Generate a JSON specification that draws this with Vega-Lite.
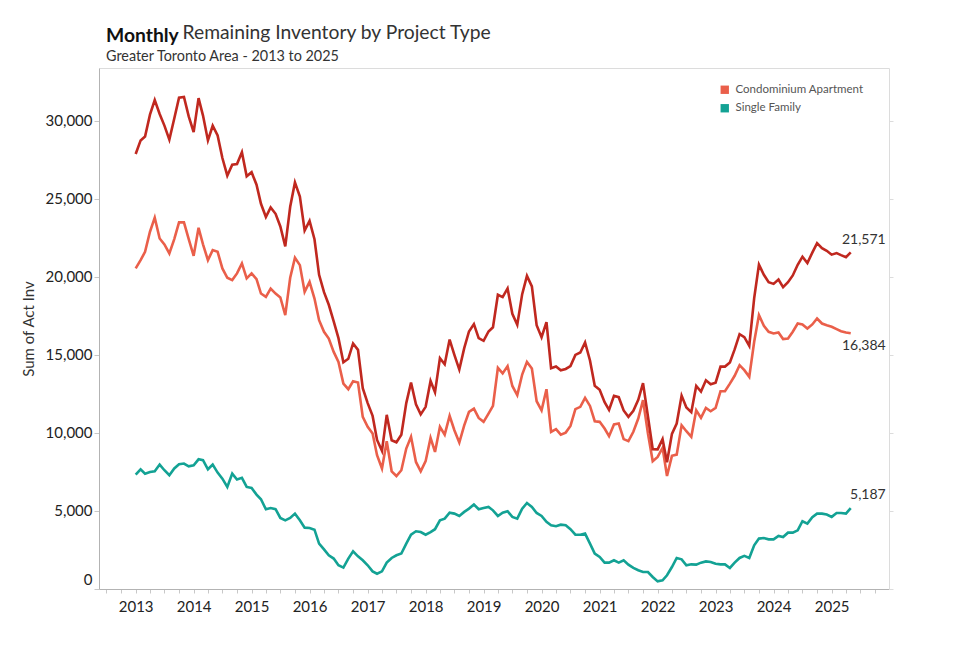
{
"$schema": "https://vega.github.io/schema/vega-lite/v6.json",
"width": 790, "height": 521,
"autosize": {"type": "none"},
"padding": {"left": 99, "top": 68, "right": 91, "bottom": 74},
"background": "white",
"config": {"font": "Lato", "view": {"stroke": null}},
"title": {"text": "Monthly", "subtitle": "Greater Toronto Area - 2013 to 2025", "anchor": "start", "frame": "group", "fontSize": 19.3, "fontWeight": "bold", "color": "#111", "font": "Lato", "subtitleFont": "Lato", "subtitleFontSize": 14.4, "subtitleColor": "#333", "subtitlePadding": 3, "dx": 7, "dy": 46, "offset": 6},
"datasets": {"inv": [
{"date":"2013-01-01T00:00","type":"Condominium Apartment","value":20540},{"date":"2013-01-01T00:00","type":"Single Family","value":7330},
{"date":"2013-02-01T00:00","type":"Condominium Apartment","value":21070},{"date":"2013-02-01T00:00","type":"Single Family","value":7670},
{"date":"2013-03-01T00:00","type":"Condominium Apartment","value":21600},{"date":"2013-03-01T00:00","type":"Single Family","value":7390},
{"date":"2013-04-01T00:00","type":"Condominium Apartment","value":22890},{"date":"2013-04-01T00:00","type":"Single Family","value":7500},
{"date":"2013-05-01T00:00","type":"Condominium Apartment","value":23790},{"date":"2013-05-01T00:00","type":"Single Family","value":7540},
{"date":"2013-06-01T00:00","type":"Condominium Apartment","value":22460},{"date":"2013-06-01T00:00","type":"Single Family","value":7970},
{"date":"2013-07-01T00:00","type":"Condominium Apartment","value":22080},{"date":"2013-07-01T00:00","type":"Single Family","value":7610},
{"date":"2013-08-01T00:00","type":"Condominium Apartment","value":21500},{"date":"2013-08-01T00:00","type":"Single Family","value":7290},
{"date":"2013-09-01T00:00","type":"Condominium Apartment","value":22420},{"date":"2013-09-01T00:00","type":"Single Family","value":7720},
{"date":"2013-10-01T00:00","type":"Condominium Apartment","value":23490},{"date":"2013-10-01T00:00","type":"Single Family","value":7990},
{"date":"2013-11-01T00:00","type":"Condominium Apartment","value":23490},{"date":"2013-11-01T00:00","type":"Single Family","value":8040},
{"date":"2013-12-01T00:00","type":"Condominium Apartment","value":22420},{"date":"2013-12-01T00:00","type":"Single Family","value":7860},
{"date":"2014-01-01T00:00","type":"Condominium Apartment","value":21350},{"date":"2014-01-01T00:00","type":"Single Family","value":7930},
{"date":"2014-02-01T00:00","type":"Condominium Apartment","value":23140},{"date":"2014-02-01T00:00","type":"Single Family","value":8310},
{"date":"2014-03-01T00:00","type":"Condominium Apartment","value":22080},{"date":"2014-03-01T00:00","type":"Single Family","value":8250},
{"date":"2014-04-01T00:00","type":"Condominium Apartment","value":21070},{"date":"2014-04-01T00:00","type":"Single Family","value":7670},
{"date":"2014-05-01T00:00","type":"Condominium Apartment","value":21710},{"date":"2014-05-01T00:00","type":"Single Family","value":7970},
{"date":"2014-06-01T00:00","type":"Condominium Apartment","value":21600},{"date":"2014-06-01T00:00","type":"Single Family","value":7460},
{"date":"2014-07-01T00:00","type":"Condominium Apartment","value":20540},{"date":"2014-07-01T00:00","type":"Single Family","value":7070},
{"date":"2014-08-01T00:00","type":"Condominium Apartment","value":19940},{"date":"2014-08-01T00:00","type":"Single Family","value":6540},
{"date":"2014-09-01T00:00","type":"Condominium Apartment","value":19790},{"date":"2014-09-01T00:00","type":"Single Family","value":7390},
{"date":"2014-10-01T00:00","type":"Condominium Apartment","value":20220},{"date":"2014-10-01T00:00","type":"Single Family","value":7010},
{"date":"2014-11-01T00:00","type":"Condominium Apartment","value":20860},{"date":"2014-11-01T00:00","type":"Single Family","value":7120},
{"date":"2014-12-01T00:00","type":"Condominium Apartment","value":19900},{"date":"2014-12-01T00:00","type":"Single Family","value":6540},
{"date":"2015-01-01T00:00","type":"Condominium Apartment","value":20220},{"date":"2015-01-01T00:00","type":"Single Family","value":6480},
{"date":"2015-02-01T00:00","type":"Condominium Apartment","value":19850},{"date":"2015-02-01T00:00","type":"Single Family","value":6050},
{"date":"2015-03-01T00:00","type":"Condominium Apartment","value":18930},{"date":"2015-03-01T00:00","type":"Single Family","value":5750},
{"date":"2015-04-01T00:00","type":"Condominium Apartment","value":18720},{"date":"2015-04-01T00:00","type":"Single Family","value":5110},
{"date":"2015-05-01T00:00","type":"Condominium Apartment","value":19250},{"date":"2015-05-01T00:00","type":"Single Family","value":5190},
{"date":"2015-06-01T00:00","type":"Condominium Apartment","value":18930},{"date":"2015-06-01T00:00","type":"Single Family","value":5110},
{"date":"2015-07-01T00:00","type":"Condominium Apartment","value":18680},{"date":"2015-07-01T00:00","type":"Single Family","value":4550},
{"date":"2015-08-01T00:00","type":"Condominium Apartment","value":17550},{"date":"2015-08-01T00:00","type":"Single Family","value":4400},
{"date":"2015-09-01T00:00","type":"Condominium Apartment","value":19940},{"date":"2015-09-01T00:00","type":"Single Family","value":4550},
{"date":"2015-10-01T00:00","type":"Condominium Apartment","value":21220},{"date":"2015-10-01T00:00","type":"Single Family","value":4830},
{"date":"2015-11-01T00:00","type":"Condominium Apartment","value":20750},{"date":"2015-11-01T00:00","type":"Single Family","value":4400},
{"date":"2015-12-01T00:00","type":"Condominium Apartment","value":19040},{"date":"2015-12-01T00:00","type":"Single Family","value":3930},
{"date":"2016-01-01T00:00","type":"Condominium Apartment","value":19680},{"date":"2016-01-01T00:00","type":"Single Family","value":3910},
{"date":"2016-02-01T00:00","type":"Condominium Apartment","value":18610},{"date":"2016-02-01T00:00","type":"Single Family","value":3800},
{"date":"2016-03-01T00:00","type":"Condominium Apartment","value":17220},{"date":"2016-03-01T00:00","type":"Single Family","value":2910},
{"date":"2016-04-01T00:00","type":"Condominium Apartment","value":16480},{"date":"2016-04-01T00:00","type":"Single Family","value":2540},
{"date":"2016-05-01T00:00","type":"Condominium Apartment","value":16050},{"date":"2016-05-01T00:00","type":"Single Family","value":2160},
{"date":"2016-06-01T00:00","type":"Condominium Apartment","value":15190},{"date":"2016-06-01T00:00","type":"Single Family","value":1950},
{"date":"2016-07-01T00:00","type":"Condominium Apartment","value":14550},{"date":"2016-07-01T00:00","type":"Single Family","value":1520},
{"date":"2016-08-01T00:00","type":"Condominium Apartment","value":13160},{"date":"2016-08-01T00:00","type":"Single Family","value":1370},
{"date":"2016-09-01T00:00","type":"Condominium Apartment","value":12800},{"date":"2016-09-01T00:00","type":"Single Family","value":1950},
{"date":"2016-10-01T00:00","type":"Condominium Apartment","value":13310},{"date":"2016-10-01T00:00","type":"Single Family","value":2420},
{"date":"2016-11-01T00:00","type":"Condominium Apartment","value":13230},{"date":"2016-11-01T00:00","type":"Single Family","value":2090},
{"date":"2016-12-01T00:00","type":"Condominium Apartment","value":11030},{"date":"2016-12-01T00:00","type":"Single Family","value":1840},
{"date":"2017-01-01T00:00","type":"Condominium Apartment","value":10390},{"date":"2017-01-01T00:00","type":"Single Family","value":1520},
{"date":"2017-02-01T00:00","type":"Condominium Apartment","value":9960},{"date":"2017-02-01T00:00","type":"Single Family","value":1130},
{"date":"2017-03-01T00:00","type":"Condominium Apartment","value":8570},{"date":"2017-03-01T00:00","type":"Single Family","value":980},
{"date":"2017-04-01T00:00","type":"Condominium Apartment","value":7720},{"date":"2017-04-01T00:00","type":"Single Family","value":1130},
{"date":"2017-05-01T00:00","type":"Condominium Apartment","value":9470},{"date":"2017-05-01T00:00","type":"Single Family","value":1690},
{"date":"2017-06-01T00:00","type":"Condominium Apartment","value":7540},{"date":"2017-06-01T00:00","type":"Single Family","value":1990},
{"date":"2017-07-01T00:00","type":"Condominium Apartment","value":7240},{"date":"2017-07-01T00:00","type":"Single Family","value":2160},
{"date":"2017-08-01T00:00","type":"Condominium Apartment","value":7610},{"date":"2017-08-01T00:00","type":"Single Family","value":2270},
{"date":"2017-09-01T00:00","type":"Condominium Apartment","value":9000},{"date":"2017-09-01T00:00","type":"Single Family","value":2910},
{"date":"2017-10-01T00:00","type":"Condominium Apartment","value":9750},{"date":"2017-10-01T00:00","type":"Single Family","value":3480},
{"date":"2017-11-01T00:00","type":"Condominium Apartment","value":8140},{"date":"2017-11-01T00:00","type":"Single Family","value":3700},
{"date":"2017-12-01T00:00","type":"Condominium Apartment","value":7540},{"date":"2017-12-01T00:00","type":"Single Family","value":3650},
{"date":"2018-01-01T00:00","type":"Condominium Apartment","value":8190},{"date":"2018-01-01T00:00","type":"Single Family","value":3480},
{"date":"2018-02-01T00:00","type":"Condominium Apartment","value":9680},{"date":"2018-02-01T00:00","type":"Single Family","value":3650},
{"date":"2018-03-01T00:00","type":"Condominium Apartment","value":8780},{"date":"2018-03-01T00:00","type":"Single Family","value":3830},
{"date":"2018-04-01T00:00","type":"Condominium Apartment","value":10390},{"date":"2018-04-01T00:00","type":"Single Family","value":4400},
{"date":"2018-05-01T00:00","type":"Condominium Apartment","value":9890},{"date":"2018-05-01T00:00","type":"Single Family","value":4510},
{"date":"2018-06-01T00:00","type":"Condominium Apartment","value":11090},{"date":"2018-06-01T00:00","type":"Single Family","value":4890},
{"date":"2018-07-01T00:00","type":"Condominium Apartment","value":10170},{"date":"2018-07-01T00:00","type":"Single Family","value":4830},
{"date":"2018-08-01T00:00","type":"Condominium Apartment","value":9380},{"date":"2018-08-01T00:00","type":"Single Family","value":4680},
{"date":"2018-09-01T00:00","type":"Condominium Apartment","value":10490},{"date":"2018-09-01T00:00","type":"Single Family","value":4940},
{"date":"2018-10-01T00:00","type":"Condominium Apartment","value":11350},{"date":"2018-10-01T00:00","type":"Single Family","value":5150},
{"date":"2018-11-01T00:00","type":"Condominium Apartment","value":11560},{"date":"2018-11-01T00:00","type":"Single Family","value":5410},
{"date":"2018-12-01T00:00","type":"Condominium Apartment","value":10960},{"date":"2018-12-01T00:00","type":"Single Family","value":5110},
{"date":"2019-01-01T00:00","type":"Condominium Apartment","value":10710},{"date":"2019-01-01T00:00","type":"Single Family","value":5190},
{"date":"2019-02-01T00:00","type":"Condominium Apartment","value":11240},{"date":"2019-02-01T00:00","type":"Single Family","value":5260},
{"date":"2019-03-01T00:00","type":"Condominium Apartment","value":11730},{"date":"2019-03-01T00:00","type":"Single Family","value":5040},
{"date":"2019-04-01T00:00","type":"Condominium Apartment","value":14170},{"date":"2019-04-01T00:00","type":"Single Family","value":4680},
{"date":"2019-05-01T00:00","type":"Condominium Apartment","value":13810},{"date":"2019-05-01T00:00","type":"Single Family","value":4890},
{"date":"2019-06-01T00:00","type":"Condominium Apartment","value":14280},{"date":"2019-06-01T00:00","type":"Single Family","value":4980},
{"date":"2019-07-01T00:00","type":"Condominium Apartment","value":13010},{"date":"2019-07-01T00:00","type":"Single Family","value":4620},
{"date":"2019-08-01T00:00","type":"Condominium Apartment","value":12420},{"date":"2019-08-01T00:00","type":"Single Family","value":4510},
{"date":"2019-09-01T00:00","type":"Condominium Apartment","value":13740},{"date":"2019-09-01T00:00","type":"Single Family","value":5150},
{"date":"2019-10-01T00:00","type":"Condominium Apartment","value":14550},{"date":"2019-10-01T00:00","type":"Single Family","value":5510},
{"date":"2019-11-01T00:00","type":"Condominium Apartment","value":14130},{"date":"2019-11-01T00:00","type":"Single Family","value":5260},
{"date":"2019-12-01T00:00","type":"Condominium Apartment","value":12030},{"date":"2019-12-01T00:00","type":"Single Family","value":4870},
{"date":"2020-01-01T00:00","type":"Condominium Apartment","value":11450},{"date":"2020-01-01T00:00","type":"Single Family","value":4680},
{"date":"2020-02-01T00:00","type":"Condominium Apartment","value":12800},{"date":"2020-02-01T00:00","type":"Single Family","value":4300},
{"date":"2020-03-01T00:00","type":"Condominium Apartment","value":10070},{"date":"2020-03-01T00:00","type":"Single Family","value":4080},
{"date":"2020-04-01T00:00","type":"Condominium Apartment","value":10240},{"date":"2020-04-01T00:00","type":"Single Family","value":4020},
{"date":"2020-05-01T00:00","type":"Condominium Apartment","value":9890},{"date":"2020-05-01T00:00","type":"Single Family","value":4120},
{"date":"2020-06-01T00:00","type":"Condominium Apartment","value":10020},{"date":"2020-06-01T00:00","type":"Single Family","value":4080},
{"date":"2020-07-01T00:00","type":"Condominium Apartment","value":10450},{"date":"2020-07-01T00:00","type":"Single Family","value":3830},
{"date":"2020-08-01T00:00","type":"Condominium Apartment","value":11520},{"date":"2020-08-01T00:00","type":"Single Family","value":3480},
{"date":"2020-09-01T00:00","type":"Condominium Apartment","value":11670},{"date":"2020-09-01T00:00","type":"Single Family","value":3480},
{"date":"2020-10-01T00:00","type":"Condominium Apartment","value":12250},{"date":"2020-10-01T00:00","type":"Single Family","value":3550},
{"date":"2020-11-01T00:00","type":"Condominium Apartment","value":11730},{"date":"2020-11-01T00:00","type":"Single Family","value":2910},
{"date":"2020-12-01T00:00","type":"Condominium Apartment","value":10750},{"date":"2020-12-01T00:00","type":"Single Family","value":2270},
{"date":"2021-01-01T00:00","type":"Condominium Apartment","value":10710},{"date":"2021-01-01T00:00","type":"Single Family","value":2050},
{"date":"2021-02-01T00:00","type":"Condominium Apartment","value":10280},{"date":"2021-02-01T00:00","type":"Single Family","value":1690},
{"date":"2021-03-01T00:00","type":"Condominium Apartment","value":9790},{"date":"2021-03-01T00:00","type":"Single Family","value":1690},
{"date":"2021-04-01T00:00","type":"Condominium Apartment","value":10540},{"date":"2021-04-01T00:00","type":"Single Family","value":1840},
{"date":"2021-05-01T00:00","type":"Condominium Apartment","value":10600},{"date":"2021-05-01T00:00","type":"Single Family","value":1690},
{"date":"2021-06-01T00:00","type":"Condominium Apartment","value":9600},{"date":"2021-06-01T00:00","type":"Single Family","value":1840},
{"date":"2021-07-01T00:00","type":"Condominium Apartment","value":9470},{"date":"2021-07-01T00:00","type":"Single Family","value":1560},
{"date":"2021-08-01T00:00","type":"Condominium Apartment","value":10070},{"date":"2021-08-01T00:00","type":"Single Family","value":1350},
{"date":"2021-09-01T00:00","type":"Condominium Apartment","value":10920},{"date":"2021-09-01T00:00","type":"Single Family","value":1200},
{"date":"2021-10-01T00:00","type":"Condominium Apartment","value":12100},{"date":"2021-10-01T00:00","type":"Single Family","value":1090},
{"date":"2021-11-01T00:00","type":"Condominium Apartment","value":9960},{"date":"2021-11-01T00:00","type":"Single Family","value":1090},
{"date":"2021-12-01T00:00","type":"Condominium Apartment","value":8190},{"date":"2021-12-01T00:00","type":"Single Family","value":770},
{"date":"2022-01-01T00:00","type":"Condominium Apartment","value":8460},{"date":"2022-01-01T00:00","type":"Single Family","value":490},
{"date":"2022-02-01T00:00","type":"Condominium Apartment","value":9040},{"date":"2022-02-01T00:00","type":"Single Family","value":560},
{"date":"2022-03-01T00:00","type":"Condominium Apartment","value":7240},{"date":"2022-03-01T00:00","type":"Single Family","value":880},
{"date":"2022-04-01T00:00","type":"Condominium Apartment","value":8530},{"date":"2022-04-01T00:00","type":"Single Family","value":1410},
{"date":"2022-05-01T00:00","type":"Condominium Apartment","value":8610},{"date":"2022-05-01T00:00","type":"Single Family","value":1990},
{"date":"2022-06-01T00:00","type":"Condominium Apartment","value":10490},{"date":"2022-06-01T00:00","type":"Single Family","value":1900},
{"date":"2022-07-01T00:00","type":"Condominium Apartment","value":10110},{"date":"2022-07-01T00:00","type":"Single Family","value":1520},
{"date":"2022-08-01T00:00","type":"Condominium Apartment","value":9750},{"date":"2022-08-01T00:00","type":"Single Family","value":1580},
{"date":"2022-09-01T00:00","type":"Condominium Apartment","value":11450},{"date":"2022-09-01T00:00","type":"Single Family","value":1560},
{"date":"2022-10-01T00:00","type":"Condominium Apartment","value":10960},{"date":"2022-10-01T00:00","type":"Single Family","value":1690},
{"date":"2022-11-01T00:00","type":"Condominium Apartment","value":11600},{"date":"2022-11-01T00:00","type":"Single Family","value":1770},
{"date":"2022-12-01T00:00","type":"Condominium Apartment","value":11390},{"date":"2022-12-01T00:00","type":"Single Family","value":1730},
{"date":"2023-01-01T00:00","type":"Condominium Apartment","value":11600},{"date":"2023-01-01T00:00","type":"Single Family","value":1620},
{"date":"2023-02-01T00:00","type":"Condominium Apartment","value":12670},{"date":"2023-02-01T00:00","type":"Single Family","value":1580},
{"date":"2023-03-01T00:00","type":"Condominium Apartment","value":12670},{"date":"2023-03-01T00:00","type":"Single Family","value":1580},
{"date":"2023-04-01T00:00","type":"Condominium Apartment","value":13160},{"date":"2023-04-01T00:00","type":"Single Family","value":1350},
{"date":"2023-05-01T00:00","type":"Condominium Apartment","value":13660},{"date":"2023-05-01T00:00","type":"Single Family","value":1690},
{"date":"2023-06-01T00:00","type":"Condominium Apartment","value":14340},{"date":"2023-06-01T00:00","type":"Single Family","value":1990},
{"date":"2023-07-01T00:00","type":"Condominium Apartment","value":14020},{"date":"2023-07-01T00:00","type":"Single Family","value":2120},
{"date":"2023-08-01T00:00","type":"Condominium Apartment","value":13590},{"date":"2023-08-01T00:00","type":"Single Family","value":1990},
{"date":"2023-09-01T00:00","type":"Condominium Apartment","value":15840},{"date":"2023-09-01T00:00","type":"Single Family","value":2800},
{"date":"2023-10-01T00:00","type":"Condominium Apartment","value":17550},{"date":"2023-10-01T00:00","type":"Single Family","value":3230},
{"date":"2023-11-01T00:00","type":"Condominium Apartment","value":16860},{"date":"2023-11-01T00:00","type":"Single Family","value":3270},
{"date":"2023-12-01T00:00","type":"Condominium Apartment","value":16480},{"date":"2023-12-01T00:00","type":"Single Family","value":3180},
{"date":"2024-01-01T00:00","type":"Condominium Apartment","value":16370},{"date":"2024-01-01T00:00","type":"Single Family","value":3180},
{"date":"2024-02-01T00:00","type":"Condominium Apartment","value":16430},{"date":"2024-02-01T00:00","type":"Single Family","value":3400},
{"date":"2024-03-01T00:00","type":"Condominium Apartment","value":16010},{"date":"2024-03-01T00:00","type":"Single Family","value":3330},
{"date":"2024-04-01T00:00","type":"Condominium Apartment","value":16050},{"date":"2024-04-01T00:00","type":"Single Family","value":3610},
{"date":"2024-05-01T00:00","type":"Condominium Apartment","value":16480},{"date":"2024-05-01T00:00","type":"Single Family","value":3610},
{"date":"2024-06-01T00:00","type":"Condominium Apartment","value":17010},{"date":"2024-06-01T00:00","type":"Single Family","value":3760},
{"date":"2024-07-01T00:00","type":"Condominium Apartment","value":16950},{"date":"2024-07-01T00:00","type":"Single Family","value":4340},
{"date":"2024-08-01T00:00","type":"Condominium Apartment","value":16690},{"date":"2024-08-01T00:00","type":"Single Family","value":4190},
{"date":"2024-09-01T00:00","type":"Condominium Apartment","value":16950},{"date":"2024-09-01T00:00","type":"Single Family","value":4600},
{"date":"2024-10-01T00:00","type":"Condominium Apartment","value":17330},{"date":"2024-10-01T00:00","type":"Single Family","value":4830},
{"date":"2024-11-01T00:00","type":"Condominium Apartment","value":17010},{"date":"2024-11-01T00:00","type":"Single Family","value":4830},
{"date":"2024-12-01T00:00","type":"Condominium Apartment","value":16900},{"date":"2024-12-01T00:00","type":"Single Family","value":4770},
{"date":"2025-01-01T00:00","type":"Condominium Apartment","value":16800},{"date":"2025-01-01T00:00","type":"Single Family","value":4620},
{"date":"2025-02-01T00:00","type":"Condominium Apartment","value":16650},{"date":"2025-02-01T00:00","type":"Single Family","value":4870},
{"date":"2025-03-01T00:00","type":"Condominium Apartment","value":16520},{"date":"2025-03-01T00:00","type":"Single Family","value":4870},
{"date":"2025-04-01T00:00","type":"Condominium Apartment","value":16430},{"date":"2025-04-01T00:00","type":"Single Family","value":4830},
{"date":"2025-05-01T00:00","type":"Condominium Apartment","value":16384},{"date":"2025-05-01T00:00","type":"Single Family","value":5187}
]},
"data": {"name": "inv"},
"resolve": {"axis": {"x": "independent", "y": "independent"}},
"layer": [
{
"mark": {"type": "line", "strokeWidth": 2.6},
"encoding": {
"x": {"field": "date", "type": "temporal",
"scale": {"domain": [{"year": 2012, "month": 5, "date": 15}, {"year": 2025, "month": 12, "date": 28}]},
"axis": {"orient": "bottom", "format": "%Y", "tickCount": {"interval": "month", "step": 3}, "labelExpr": "month(datum.value) == 0 ? datum.label : ''", "grid": false, "domainColor": "#b3b3b3", "tickColor": "#c8c8c8", "tickSize": 4, "labelFontSize": 15, "labelColor": "#222", "labelPadding": 6, "labelFlush": false, "labelOverlap": false, "title": null}},
"y": {"field": "value", "type": "quantitative",
"scale": {"domain": [0, 33380], "nice": false},
"axis": {"orient": "left", "values": [0, 5000, 10000, 15000, 20000, 25000, 30000], "labelExpr": "format(datum.value, ',')", "grid": false, "domainColor": "#b3b3b3", "tickColor": "#c8c8c8", "tickSize": 5, "labelFontSize": 15, "labelColor": "#222", "labelPadding": 2, "labelOffset": {"condition": {"test": "datum.value === 0", "value": -10}, "value": 0}, "title": "Sum of Act Inv", "titleFontSize": 15, "titleFontWeight": "normal", "titleColor": "#333", "titlePadding": 9}},
"color": {"field": "type", "type": "nominal",
"scale": {"domain": ["Condominium Apartment", "Single Family"], "range": ["#EA5F4A", "#13A294"]},
"legend": {"orient": "none", "legendX": 620, "legendY": 16, "title": null, "padding": 0, "labelFontSize": 11.5, "labelColor": "#555", "labelOffset": 5, "rowPadding": 5.5, "symbolType": "square", "symbolSize": 70,
"encode": {"symbols": {"update": {"fill": {"scale": "color", "field": "value"}, "strokeWidth": {"value": 0}, "shape": {"value": "square"}}}}}}
}
},
{
"mark": {"type": "line", "strokeWidth": 2.6, "color": "#C0281F"},
"encoding": {
"x": {"field": "date", "type": "temporal",
"axis": {"orient": "top", "labels": false, "ticks": false, "grid": false, "domainColor": "#dcdcdc", "title": "Remaining Inventory by Project Type", "titleFontSize": 19.3, "titleFontWeight": "normal", "titleColor": "#333", "titleAnchor": "start", "titleAlign": "left", "titleBaseline": "alphabetic", "titleX": 83, "titleY": -30}},
"y": {"aggregate": "sum", "field": "value", "type": "quantitative",
"axis": {"orient": "right", "values": [0, 5000, 10000, 15000, 20000, 25000, 30000], "labels": false, "ticks": true, "tickSize": 4, "tickColor": "#dcdcdc", "domainColor": "#dcdcdc", "grid": false, "title": null}}
}
},
{
"transform": [{"filter": "year(datum.date) == 2025 && month(datum.date) == 4"}, {"aggregate": [{"op": "sum", "field": "value", "as": "total"}], "groupby": ["date"]}],
"mark": {"type": "text", "align": "right", "baseline": "middle", "dx": 35, "dy": -12, "fontSize": 14, "color": "#333"},
"encoding": {
"x": {"field": "date", "type": "temporal", "axis": null},
"y": {"field": "total", "type": "quantitative", "axis": null},
"text": {"field": "total", "type": "quantitative", "format": ","}
}
},
{
"transform": [{"filter": "year(datum.date) == 2025 && month(datum.date) == 4 && datum.type == 'Condominium Apartment'"}],
"mark": {"type": "text", "align": "right", "baseline": "middle", "dx": 35, "dy": 13, "fontSize": 14, "color": "#333"},
"encoding": {
"x": {"field": "date", "type": "temporal", "axis": null},
"y": {"field": "value", "type": "quantitative", "axis": null},
"text": {"field": "value", "type": "quantitative", "format": ","}
}
},
{
"transform": [{"filter": "year(datum.date) == 2025 && month(datum.date) == 4 && datum.type == 'Single Family'"}],
"mark": {"type": "text", "align": "right", "baseline": "middle", "dx": 35, "dy": -13, "fontSize": 14, "color": "#333"},
"encoding": {
"x": {"field": "date", "type": "temporal", "axis": null},
"y": {"field": "value", "type": "quantitative", "axis": null},
"text": {"field": "value", "type": "quantitative", "format": ","}
}
}
]
}
